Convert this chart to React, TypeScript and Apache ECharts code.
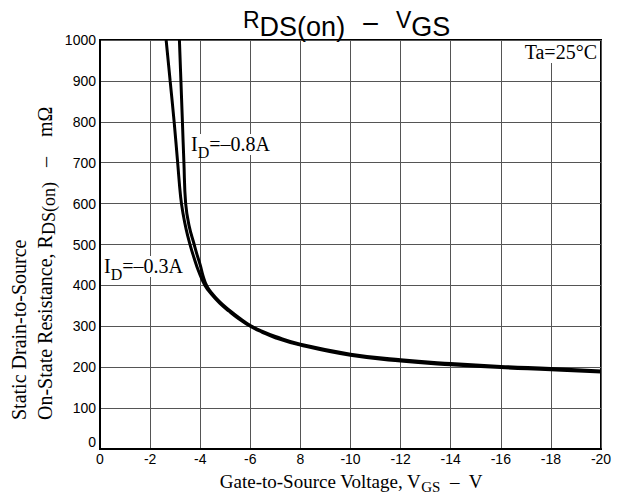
import React, { useEffect, useRef } from "react";
import * as echarts from "echarts";

// X tick labels as printed on the reference (note the "8" without minus sign)
const xTickLabels = ["0", "-2", "-4", "-6", "8", "-10", "-12", "-14", "-16", "-18", "-20"];

// ID = -0.3A
const vgs03 = [-2.64, -2.8, -2.96, -3.1, -3.22, -3.32, -3.44, -3.58, -3.74, -3.94, -4.19, -4.47, -4.79, -5.15, -5.55, -6, -6.46, -7, -8, -10, -12, -14, -16, -18, -20];
const rds03 = [1000, 900, 800, 700, 616, 574, 537, 503, 470, 434, 400, 377, 356, 337, 318, 300, 286, 272, 254, 229, 215, 206, 199, 194, 188];

// ID = -0.8A
const vgs08 = [-3.17, -3.23, -3.29, -3.35, -3.42, -3.56, -3.76, -3.87, -4.0, -4.12, -4.27, -4.49, -4.79, -5.15, -5.55, -6, -6.46, -7, -8, -10, -12, -14, -16, -18, -20];
const rds08 = [1000, 900, 800, 700, 600, 545, 500, 476, 450, 422, 398, 379, 359, 340, 321, 302, 288, 275, 256, 232, 218, 209, 202, 197, 191];

const serif = "'Liberation Serif', 'Times New Roman', Times, serif";
const sans = "'Liberation Sans', Arial, Helvetica, sans-serif";

export default function App() {
  const ref = useRef<HTMLDivElement>(null);

  useEffect(() => {
    document.body.style.margin = "0";
    const chart = echarts.init(ref.current as HTMLDivElement, null, { renderer: "svg" });

    const lineSeries = (name: string, xs: number[], ys: number[]) => ({
      name,
      type: "line",
      data: xs.map((x, i) => [x, ys[i]]),
      showSymbol: false,
      smooth: 0.45,
      lineStyle: { color: "#000", width: 3 },
      itemStyle: { color: "#000" },
      clip: true,
    });

    const subRich = (size: number, subSize: number, pad: number) => ({
      n: { fontSize: size, lineHeight: size + 1, verticalAlign: "top", fontFamily: serif, color: "#000" },
      sub: { fontSize: subSize, lineHeight: 10, padding: [pad, 0, 0, 0], verticalAlign: "top", fontFamily: serif, color: "#000" },
    });

    chart.setOption({
      animation: false,
      backgroundColor: "#fff",
      grid: { left: 100, right: 16, top: 40, bottom: 46, show: true, borderColor: "#000", borderWidth: 2 },
      xAxis: {
        type: "value",
        inverse: true,
        min: -20,
        max: 0,
        interval: 2,
        axisLine: { show: true, onZero: false, lineStyle: { color: "#000", width: 2 } },
        axisTick: { show: false },
        axisLabel: {
          color: "#000",
          fontFamily: sans,
          fontSize: 14,
          margin: 3,
          formatter: (v: number) => xTickLabels[Math.round(-v / 2)] ?? "",
        },
        splitLine: { show: true, lineStyle: { color: "#555", width: 1 } },
      },
      yAxis: {
        type: "value",
        min: 0,
        max: 1000,
        interval: 100,
        axisLine: { show: true, onZero: false, lineStyle: { color: "#000", width: 2 } },
        axisTick: { show: false },
        axisLabel: {
          color: "#000",
          fontFamily: sans,
          fontSize: 14,
          margin: 4,
          verticalAlignMinLabel: "bottom",
          formatter: (v: number) => String(v),
        },
        splitLine: { show: true, lineStyle: { color: "#555", width: 1 } },
      },
      series: [lineSeries("ID=-0.3A", vgs03, rds03), lineSeries("ID=-0.8A", vgs08, rds08)],
      graphic: [
        {
          type: "text",
          x: 243,
          y: 8,
          z: 100,
          style: {
            text: "{r|R}{s|DS(on)}{m|  \u2212  }{r|V}{s|GS}",
            align: "left",
            verticalAlign: "top",
            rich: {
              r: { fontSize: 23, lineHeight: 22, verticalAlign: "top", fontFamily: sans, color: "#000" },
              s: { fontSize: 27, lineHeight: 38, fontFamily: sans, color: "#000" },
              m: { fontSize: 30, lineHeight: 26, verticalAlign: "top", fontFamily: sans, color: "#000" },
            },
          },
        },
        {
          type: "text",
          x: 6,
          y: 420,
          z: 100,
          rotation: Math.PI / 2,
          style: {
            text: "{n|Static Drain-to-Source}\n{n|On-State Resistance, R}{sub|DS(on)}{n|   \u2013    m\u03a9}",
            align: "left",
            verticalAlign: "top",
            rich: {
              n: { fontSize: 20, lineHeight: 26, fontFamily: serif, color: "#000" },
              sub: { fontSize: 18, lineHeight: 18, verticalAlign: "bottom", fontFamily: serif, color: "#000" },
            },
          },
        },
        {
          type: "text",
          x: 351,
          y: 472,
          z: 100,
          style: {
            text: "{n|Gate-to-Source Voltage, V}{sub|GS}{n|  \u2013  V}",
            align: "center",
            verticalAlign: "top",
            rich: subRich(19, 15, 7),
          },
        },
        {
          type: "text",
          x: 599,
          y: 41,
          z: 100,
          style: {
            text: "Ta=25\u00b0C",
            font: `20px ${serif}`,
            fill: "#000",
            align: "right",
            verticalAlign: "top",
            backgroundColor: "#fff",
            padding: [1, 2, 1, 4],
          },
        },
        {
          type: "text",
          x: 191,
          y: 134,
          z: 100,
          style: {
            text: "{n|I}{sub|D}{n|=\u20130.8A}",
            align: "left",
            verticalAlign: "top",
            backgroundColor: "#fff",
            rich: subRich(20, 16, 10),
          },
        },
        {
          type: "text",
          x: 104,
          y: 256,
          z: 100,
          style: {
            text: "{n|I}{sub|D}{n|=\u20130.3A}",
            align: "left",
            verticalAlign: "top",
            backgroundColor: "#fff",
            rich: subRich(20, 16, 10),
          },
        },
      ],
    });

    return () => chart.dispose();
  }, []);

  return <div ref={ref} style={{ width: 617, height: 495 }} />;
}
